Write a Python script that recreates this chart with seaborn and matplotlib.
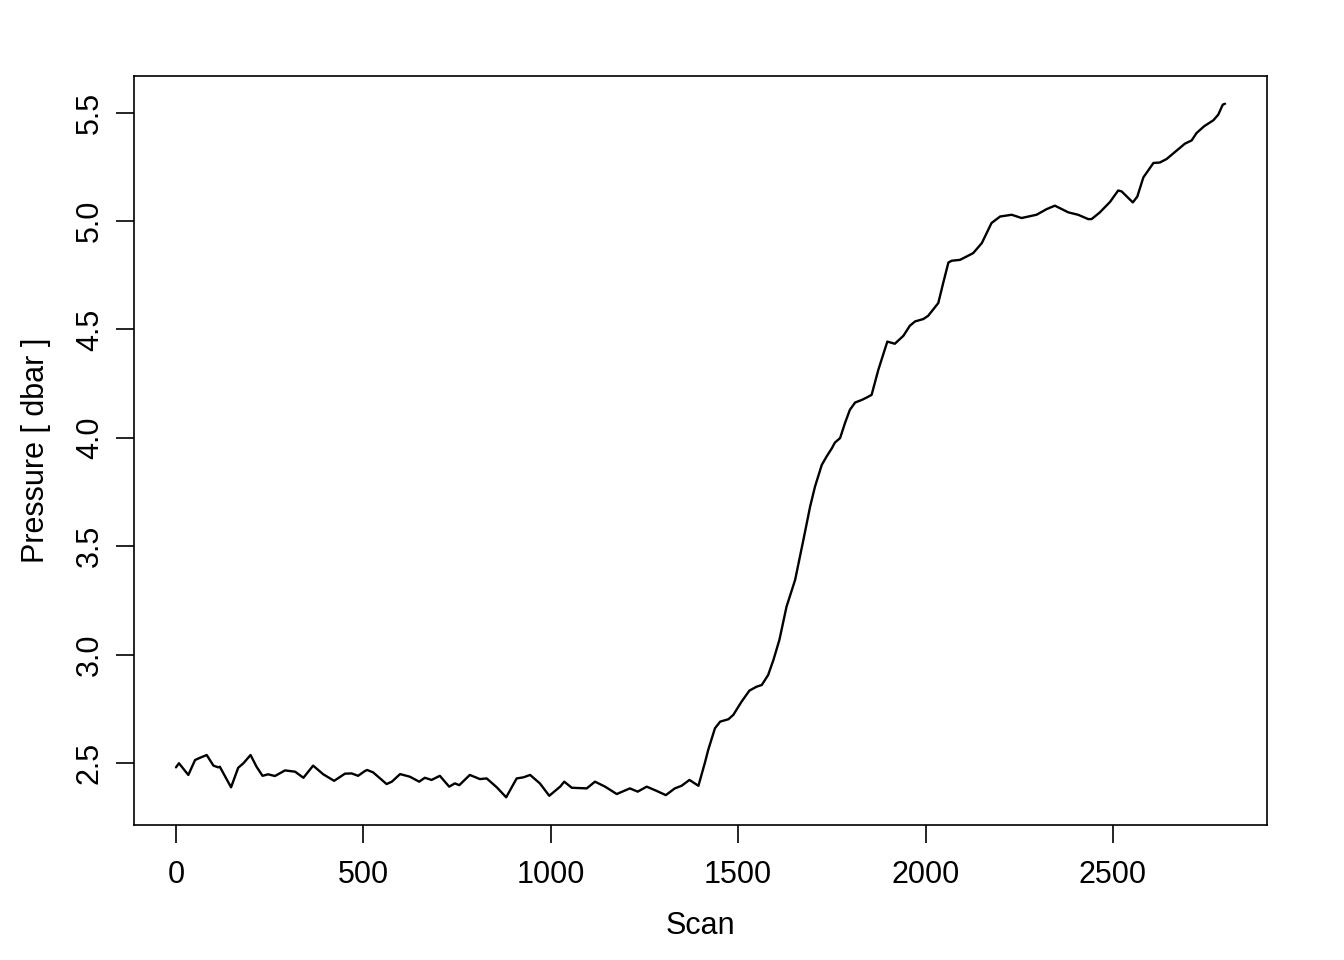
import numpy as np
import pandas as pd
import matplotlib
matplotlib.use("Agg")
import matplotlib.pyplot as plt
import seaborn as sns

# pressure trace (scan index, dbar)
scan = [0, 8, 33, 51, 64, 82, 100, 113, 117, 147, 166, 180, 199, 215, 231, 246,
        264, 291, 318, 340, 366, 393, 422, 451, 469, 486, 504, 510, 526, 562, 576,
        598, 624, 649, 664, 682, 704, 729, 744, 756, 784, 811, 829, 856, 881, 909,
        927, 945, 971, 996, 1025, 1036, 1056, 1096, 1118, 1145, 1176, 1211, 1232,
        1256, 1283, 1307, 1331, 1349, 1370, 1394, 1412, 1420, 1438, 1452, 1474,
        1487, 1509, 1530, 1549, 1563, 1580, 1594, 1610, 1629, 1652, 1674, 1692,
        1705, 1723, 1736, 1750, 1758, 1772, 1785, 1798, 1812, 1830, 1843, 1856,
        1874, 1898, 1918, 1941, 1958, 1972, 1994, 2007, 2034, 2047, 2061, 2070,
        2092, 2119, 2127, 2150, 2176, 2199, 2230, 2256, 2296, 2323, 2345, 2381,
        2407, 2434, 2443, 2465, 2492, 2514, 2523, 2553, 2565, 2581, 2608, 2625,
        2643, 2670, 2692, 2710, 2723, 2743, 2768, 2781, 2793, 2799]
pressure = [2.480, 2.499, 2.445, 2.514, 2.524, 2.537, 2.488, 2.480, 2.483, 2.388,
            2.478, 2.499, 2.537, 2.483, 2.441, 2.448, 2.440, 2.466, 2.460, 2.432,
            2.488, 2.448, 2.418, 2.451, 2.452, 2.441, 2.463, 2.468, 2.457, 2.403,
            2.414, 2.449, 2.437, 2.414, 2.432, 2.422, 2.441, 2.391, 2.406, 2.398,
            2.445, 2.426, 2.429, 2.388, 2.342, 2.429, 2.434, 2.445, 2.406, 2.349,
            2.391, 2.414, 2.386, 2.383, 2.414, 2.391, 2.357, 2.383, 2.368, 2.391,
            2.371, 2.352, 2.383, 2.395, 2.422, 2.395, 2.506, 2.560, 2.660, 2.691,
            2.702, 2.722, 2.783, 2.834, 2.852, 2.860, 2.906, 2.975, 3.068, 3.221,
            3.345, 3.529, 3.683, 3.775, 3.875, 3.914, 3.952, 3.978, 3.999, 4.068,
            4.129, 4.163, 4.175, 4.186, 4.198, 4.314, 4.444, 4.434, 4.471, 4.517,
            4.537, 4.548, 4.563, 4.622, 4.714, 4.809, 4.817, 4.821, 4.845, 4.852,
            4.898, 4.991, 5.021, 5.029, 5.014, 5.029, 5.055, 5.071, 5.040, 5.029,
            5.009, 5.009, 5.040, 5.088, 5.141, 5.137, 5.086, 5.113, 5.201, 5.268,
            5.270, 5.286, 5.325, 5.357, 5.372, 5.406, 5.437, 5.465, 5.491, 5.537,
            5.541]

xticks = [0, 500, 1000, 1500, 2000, 2500]
yticks = [2.5, 3.0, 3.5, 4.0, 4.5, 5.0, 5.5]

df = pd.DataFrame({"scan": scan, "pressure": pressure})

sns.set_theme(style="ticks")
plt.rcParams["font.family"] = ["Liberation Sans", "DejaVu Sans"]

fig = plt.figure(figsize=(13.44, 9.6), dpi=100)
ax = fig.add_axes([0.0997, 0.1406, 0.843, 0.7802])

sns.lineplot(data=df, x="scan", y="pressure", color="black", linewidth=1.7, ax=ax)

ax.margins(x=0.04, y=0.04)
ax.set_xticks(xticks)
ax.set_xticklabels([str(t) for t in xticks])
ax.set_yticks(yticks)
ax.set_yticklabels([f"{t:.1f}" for t in yticks], rotation=90, va="center")

for s in ax.spines.values():
    s.set_visible(True)
    s.set_linewidth(1.2)
    s.set_color("black")

ax.tick_params(axis="both", direction="out", length=13, width=1.2, color="black",
               labelsize=22, labelcolor="black")
ax.tick_params(axis="x", pad=12)
ax.tick_params(axis="y", pad=8)

ax.set_xlabel("Scan", fontsize=22, labelpad=15, color="black")
ax.set_ylabel("Pressure [ dbar ]", fontsize=22, labelpad=17, color="black")

fig.savefig("out.png", dpi=100, facecolor="white")
